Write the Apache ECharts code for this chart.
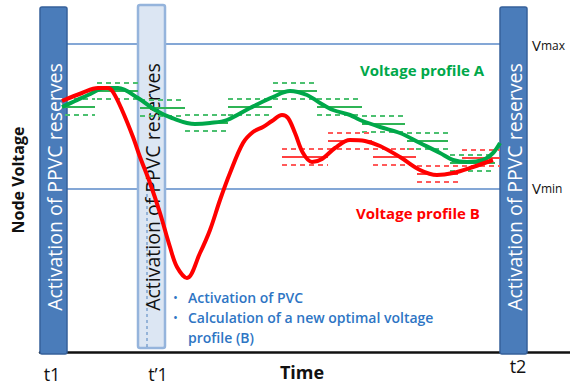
<!DOCTYPE html>
<html><head><meta charset="utf-8">
<script src="https://cdn.jsdelivr.net/npm/echarts@6/dist/echarts.min.js"></script>
<style>html,body{margin:0;padding:0;background:#fff}#c{width:570px;height:385px}</style>
</head><body><div id="c"></div>
<script>
// Time axis: arbitrary units 0..530; node voltage: arbitrary units 0..352
const vmaxLevel = 308;
const vminLevel = 163;
const limitSpan = [27, 460];

// Voltage profile A (green)
const profileATime = [22,35,48,65,78,98,115,132,155,170,187,210,233,250,267,280,293,310,320,340,360,380,400,413,427,443,453,460];
const profileAVolt = [245,251,257,264,264,254,242,234,228,229,232,244,255,261,257,249,242,237,232,225,219,209,199,192,190,192,199,209];

// Voltage profile B (red)
const profileBTime = [22,42,58,68,73,82,93,100,110,120,130,137,147,160,170,180,190,203,213,223,232,242,248,255,263,272,282,295,310,325,340,360,380,397,413,433,453];
const profileBVolt = [251,259,264,264,260,242,215,195,169,139,105,85,74,99,122,152,179,209,220,225,231,237,234,219,199,190,193,204,212,211,206,195,182,177,179,185,192];

// Set-point bands of profile A: [start, end, level]
const bandsAStart = [25,57,100,145,188,233,277,322,367,410];
const bandsAEnd   = [55,98,145,188,232,277,322,365,408,455];
const bandsALevel = [245,261,244,229,245,261,245,228,211,189];

// Set-point bands of profile B
const bandsBStart = [242,288,333,377,422];
const bandsBEnd   = [288,332,376,418,460];
const bandsBLevel = [195,211,195,178,194];

// Reserve activation windows: [start, end, bottom, top, kind]
const windowsStart = [0, 98, 460];
const windowsEnd   = [27, 125, 487];
const windowsBottom = [-2, 4, -2];
const windowsTop    = [345, 347, 345];
const windowsKind   = ['dark', 'light', 'dark'];
const windowText = 'Activation of PPVC reserves';

const bandHalf = 8;

const chart = echarts.init(document.getElementById('c'), null, {renderer: 'svg'});

function zipPts(t, v){ return t.map((x,i)=>[x, v[i]]); }

function bandSeries(name, starts, ends, levels, solidColor, dashColor){
  return {
    type: 'custom', name: name, z: 4,
    data: starts.map((s,i)=>[s, ends[i], levels[i]]),
    renderItem: function(params, api){
      const a = api.coord([api.value(0), api.value(2)]);
      const b = api.coord([api.value(1), api.value(2)]);
      const up = api.coord([api.value(0), api.value(2)+bandHalf])[1];
      const dn = api.coord([api.value(0), api.value(2)-bandHalf])[1];
      return {type:'group', children:[
        {type:'line', shape:{x1:a[0],y1:a[1],x2:b[0],y2:b[1]}, style:{stroke:solidColor,lineWidth:2}},
        {type:'line', shape:{x1:a[0],y1:up,x2:b[0],y2:up}, style:{stroke:dashColor,lineWidth:2,lineDash:[5,4]}},
        {type:'line', shape:{x1:a[0],y1:dn,x2:b[0],y2:dn}, style:{stroke:dashColor,lineWidth:2,lineDash:[5,4]}}
      ]};
    }
  };
}

const option = {
  animation: false,
  grid: {left: 40, right: 0, top: 0, bottom: 33},
  xAxis: {type:'value', min:0, max:530, axisLine:{show:true, lineStyle:{color:'#111', width:2.5}},
          axisTick:{show:false}, axisLabel:{show:false}, splitLine:{show:false}},
  yAxis: {type:'value', min:0, max:352, show:false},
  series: [
    {type:'line', name:'Vmax', z:1, symbol:'none', data:[[limitSpan[0],vmaxLevel],[limitSpan[1],vmaxLevel]], lineStyle:{color:'#5b8ac9', width:1.5}},
    {type:'line', name:'Vmin', z:1, symbol:'none', data:[[limitSpan[0],vminLevel],[limitSpan[1],vminLevel]], lineStyle:{color:'#5b8ac9', width:1.5}},
    {
      type:'custom', name:'windows', z:2,
      data: windowsStart.map((s,i)=>[s, windowsEnd[i], windowsBottom[i], windowsTop[i], i]),
      renderItem: function(params, api){
        const tl = api.coord([api.value(0), api.value(3)]);
        const br = api.coord([api.value(1), api.value(2)]);
        const kind = windowsKind[api.value(4)];
        const dark = kind === 'dark';
        const cx = (tl[0]+br[0])/2;
        const children = [
          {type:'rect', shape:{x:tl[0], y:tl[1], width:br[0]-tl[0], height:br[1]-tl[1], r:2},
           style:{fill: dark ? '#4a7cba' : '#dce6f3', stroke: dark ? '#36609a' : '#95b4dc', lineWidth: dark ? 1.5 : 2.5}}
        ];
        if(!dark){
          const lt = api.coord([api.value(0)+9, 170]);
          children.push({type:'line', shape:{x1:lt[0], y1:lt[1], x2:lt[0], y2:br[1]}, style:{stroke:'#4f81bd', lineWidth:1, lineDash:[3,3]}});
        }
        children.push({type:'text', x: cx+1, y: 187, rotation: Math.PI/2,
          style:{text: windowText, fill: dark ? '#ffffff' : '#111111', font:'19.5px "Open Sans"', align:'center', verticalAlign:'middle'}});
        return {type:'group', children: children};
      }
    },
    bandSeries('bandsA', bandsAStart, bandsAEnd, bandsALevel, '#2fb455', '#4cc070'),
    bandSeries('bandsB', bandsBStart, bandsBEnd, bandsBLevel, '#ff4040', '#ff5a5a'),
    {type:'line', name:'Voltage profile A', z:5, symbol:'none', smooth:0.35, data: zipPts(profileATime, profileAVolt), lineStyle:{color:'#00a84a', width:4}},
    {type:'line', name:'Voltage profile B', z:6, symbol:'none', smooth:0.35, data: zipPts(profileBTime, profileBVolt), lineStyle:{color:'#ff0000', width:4}}
  ],
  graphic: [
    {type:'text', x: 532, y: 45, style:{text:'{a|V}{b|max}', rich:{a:{fontSize:15, fontFamily:'Open Sans', fill:'#111'}, b:{fontSize:12, fontFamily:'Open Sans', fill:'#111'}}, verticalAlign:'middle'}},
    {type:'text', x: 532, y: 188, style:{text:'{a|V}{b|min}', rich:{a:{fontSize:15, fontFamily:'Open Sans', fill:'#111'}, b:{fontSize:12, fontFamily:'Open Sans', fill:'#111'}}, verticalAlign:'middle'}},
    {type:'text', x: 360, y: 70, style:{text:'Voltage profile A', font:'bold 15px "Open Sans"', fill:'#00a84a', verticalAlign:'middle'}},
    {type:'text', x: 356, y: 213, style:{text:'Voltage profile B', font:'bold 15px "Open Sans"', fill:'#ff0000', verticalAlign:'middle'}},
    {type:'text', x: 173, y: 297, style:{text:'•', font:'13px "Open Sans"', fill:'#2e75c4', verticalAlign:'middle'}},
    {type:'text', x: 173, y: 317, style:{text:'•', font:'13px "Open Sans"', fill:'#2e75c4', verticalAlign:'middle'}},
    {type:'text', x: 188, y: 297, style:{text:'Activation of PVC', font:'600 14px "Open Sans"', fill:'#2e75c4', verticalAlign:'middle'}},
    {type:'text', x: 188, y: 317, style:{text:'Calculation of a new optimal voltage', font:'600 14px "Open Sans"', fill:'#2e75c4', verticalAlign:'middle'}},
    {type:'text', x: 188, y: 337, style:{text:'profile (B)', font:'600 14px "Open Sans"', fill:'#2e75c4', verticalAlign:'middle'}},
    {type:'text', x: 18, y: 180, rotation: Math.PI/2, style:{text:'Node Voltage', font:'bold 16px "Open Sans"', fill:'#111', align:'center', verticalAlign:'middle'}},
    {type:'text', x: 302, y: 372, style:{text:'Time', font:'bold 18px "Open Sans"', fill:'#111', align:'center', verticalAlign:'middle'}},
    {type:'text', x: 52, y: 374, style:{text:'t1', font:'18px "Open Sans"', fill:'#111', align:'center', verticalAlign:'middle'}},
    {type:'text', x: 158, y: 374, style:{text:'t\u20191', font:'18px "Open Sans"', fill:'#111', align:'center', verticalAlign:'middle'}},
    {type:'text', x: 518, y: 366, style:{text:'t2', font:'18px "Open Sans"', fill:'#111', align:'center', verticalAlign:'middle'}}
  ]
};
chart.setOption(option);
</script>
</body></html>
